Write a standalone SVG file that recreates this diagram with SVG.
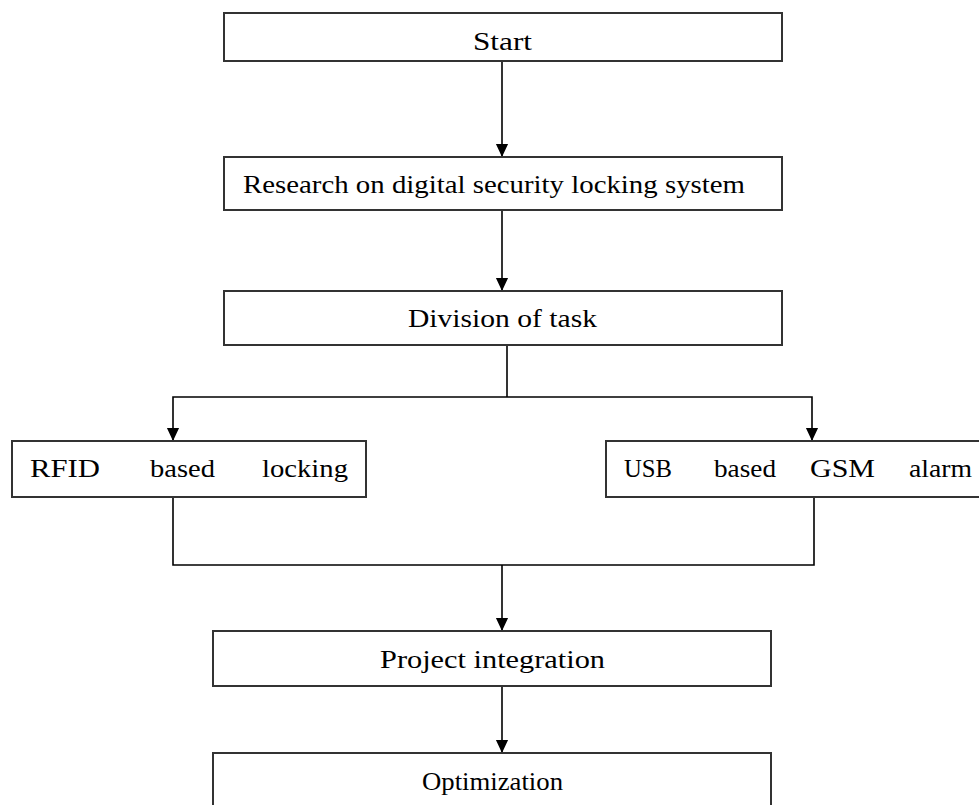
<svg xmlns="http://www.w3.org/2000/svg" width="979" height="805" viewBox="0 0 979 805">
  <style>
    .box { fill: #ffffff; stroke: #333333; stroke-width: 2; }
    .lbl { font-family: "Liberation Serif", "Times New Roman", serif; font-size: 26px; fill: #000000; }
    .wire { fill: none; stroke: #000000; stroke-width: 1.6; }
  </style>
  <defs>
    <!-- solid triangular arrowhead, tip at the end of the line -->
    <marker id="head" markerUnits="userSpaceOnUse" markerWidth="14" markerHeight="16" refX="15" refY="7" orient="auto" viewBox="0 0 16 14">
      <path d="M0,0 L15,7 L0,14 Z" fill="#000000"/>
    </marker>
  </defs>

  <rect width="979" height="805" fill="#ffffff"/>

  <!-- connectors -->
  <g id="connectors">
    <line class="wire" x1="502" y1="62" x2="502" y2="157" marker-end="url(#head)"/>
    <line class="wire" x1="502" y1="211" x2="502" y2="291" marker-end="url(#head)"/>
    <polyline class="wire" points="507,345 507,397"/>
    <polyline class="wire" points="507,397 173,397 173,441" marker-end="url(#head)"/>
    <polyline class="wire" points="507,397 812,397 812,441" marker-end="url(#head)"/>
    <polyline class="wire" points="173,498 173,565 814,565 814,498"/>
    <line class="wire" x1="502" y1="565" x2="502" y2="631" marker-end="url(#head)"/>
    <line class="wire" x1="502" y1="687" x2="502" y2="753" marker-end="url(#head)"/>
  </g>

  <g id="start">
    <rect class="box" x="224" y="13" width="558" height="48"/>
    <text class="lbl" x="473" y="50" textLength="59" lengthAdjust="spacingAndGlyphs">Start</text>
  </g>

  <g id="research">
    <rect class="box" x="224" y="157" width="558" height="53"/>
    <text class="lbl" x="243" y="193" textLength="502" lengthAdjust="spacingAndGlyphs">Research on digital security locking system</text>
  </g>

  <g id="division">
    <rect class="box" x="224" y="291" width="558" height="54"/>
    <text class="lbl" x="408" y="327" textLength="189" lengthAdjust="spacingAndGlyphs">Division of task</text>
  </g>

  <g id="rfid">
    <rect class="box" x="12" y="441" width="354" height="56"/>
    <text class="lbl" x="30" y="477" textLength="70" lengthAdjust="spacingAndGlyphs">RFID</text>
    <text class="lbl" x="150" y="477" textLength="65" lengthAdjust="spacingAndGlyphs">based</text>
    <text class="lbl" x="262" y="477" textLength="86" lengthAdjust="spacingAndGlyphs">locking</text>
  </g>

  <g id="usb">
    <rect class="box" x="606" y="441" width="390" height="56"/>
    <text class="lbl" x="624" y="477" textLength="48" lengthAdjust="spacingAndGlyphs">USB</text>
    <text class="lbl" x="714" y="477" textLength="62" lengthAdjust="spacingAndGlyphs">based</text>
    <text class="lbl" x="810" y="477" textLength="65" lengthAdjust="spacingAndGlyphs">GSM</text>
    <text class="lbl" x="909" y="477" textLength="63" lengthAdjust="spacingAndGlyphs">alarm</text>
  </g>

  <g id="integration">
    <rect class="box" x="213" y="631" width="558" height="55"/>
    <text class="lbl" x="380" y="668" textLength="225" lengthAdjust="spacingAndGlyphs">Project integration</text>
  </g>

  <g id="optimization">
    <rect class="box" x="213" y="753" width="558" height="70"/>
    <text class="lbl" x="422" y="790" textLength="141" lengthAdjust="spacingAndGlyphs">Optimization</text>
  </g>
</svg>
